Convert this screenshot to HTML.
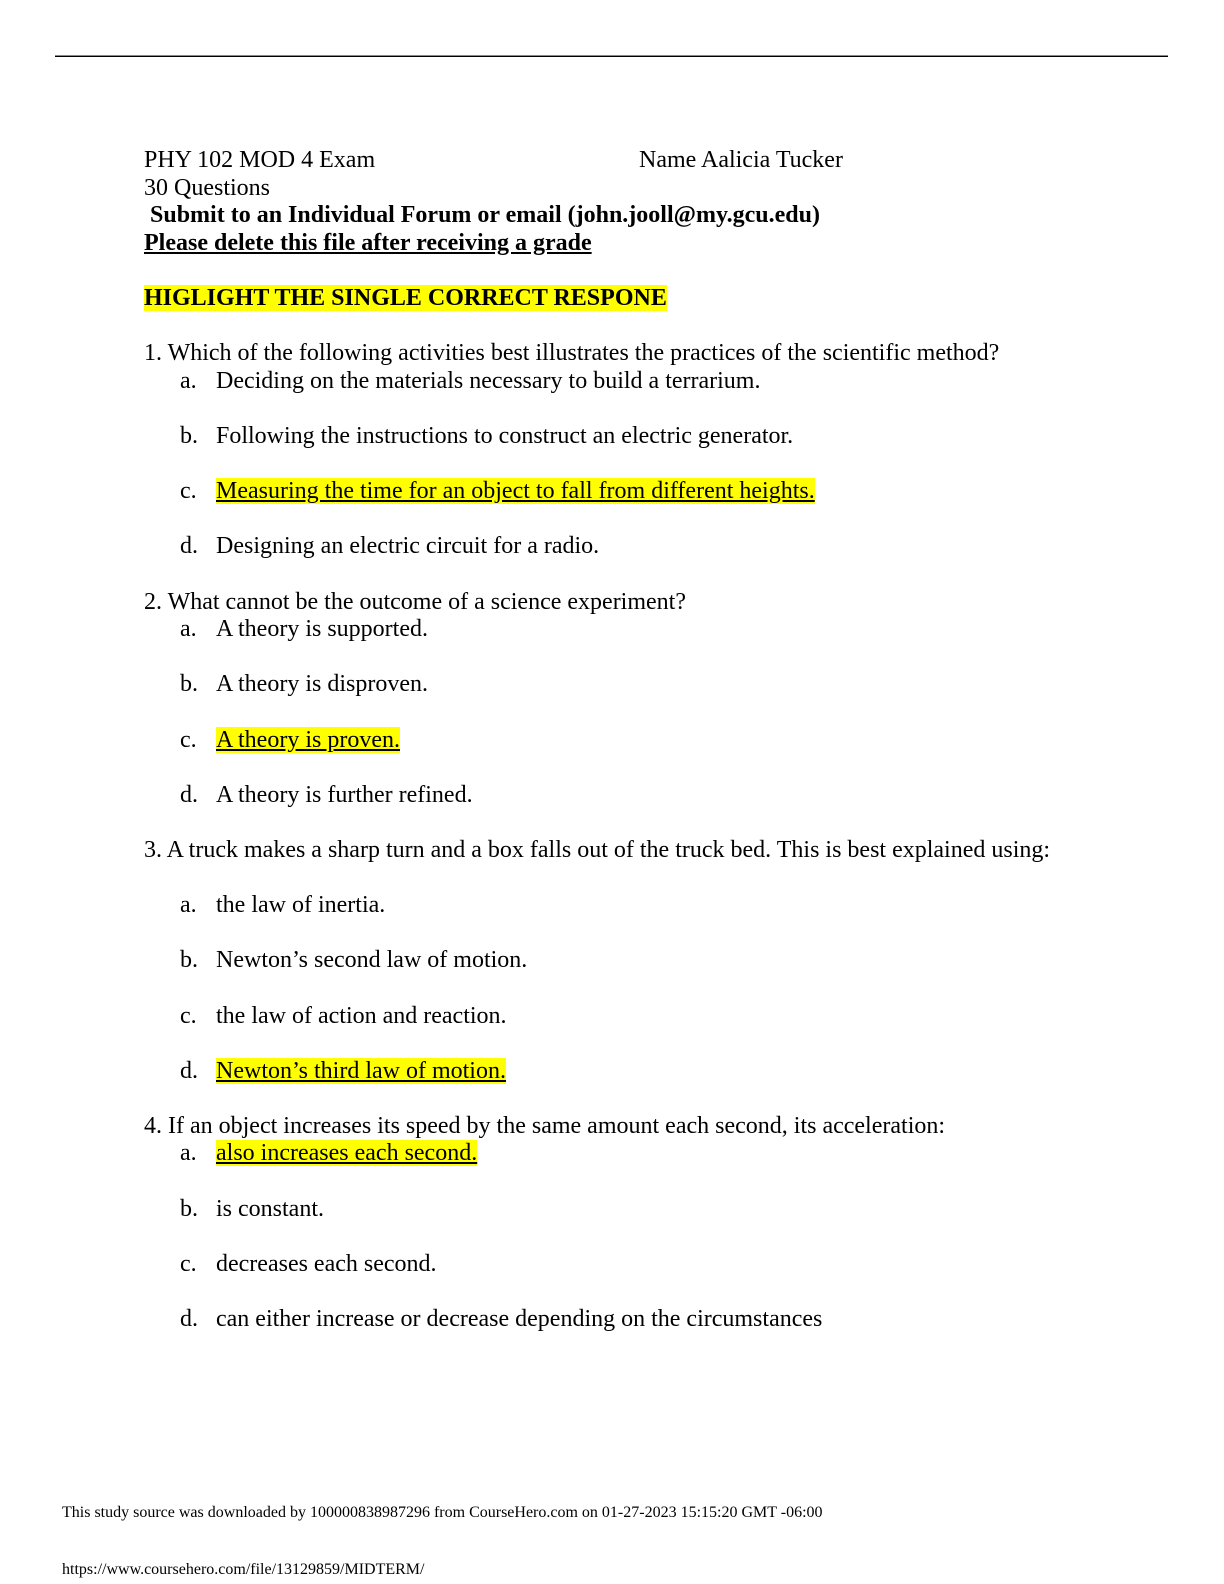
<!DOCTYPE html>
<html>
<head>
<meta charset="utf-8">
<style>
  html, body { margin:0; padding:0; }
  body { width:1224px; height:1584px; position:relative; background:#fff; overflow:hidden;
         font-family:"Liberation Serif", "Times New Roman", serif; color:#000; }
  .rule { position:absolute; left:55px; top:55px; width:1113px; height:0; border-top:1px solid #888; border-bottom:1px solid #000; }
  .doc { position:absolute; left:0; top:147.1px; width:1224px; font-size:24px; line-height:27.6px; }
  .ln { position:relative; height:27.6px; white-space:pre; }
  .q { position:absolute; left:144px; top:0; }
  .let { position:absolute; left:180px; top:0; }
  .opt { position:absolute; left:216px; top:0; }
  .hl { background:#ffff00; }
  .u { text-decoration:underline; }
  b { font-weight:bold; }
  .foot { position:absolute; left:62px; font-size:16px; line-height:20px; white-space:pre; }
</style>
</head>
<body>
<div class="rule"></div>
<div class="doc">
  <div class="ln"><span class="q">PHY 102 MOD 4 Exam</span><span style="position:absolute;left:639px;top:0;">Name Aalicia Tucker</span></div>
  <div class="ln"><span class="q">30 Questions</span></div>
  <div class="ln"><span class="q" style="left:150px;"><b>Submit to an Individual Forum or email (john.jooll@my.gcu.edu)</b></span></div>
  <div class="ln"><span class="q"><b class="u">Please delete this file after receiving a grade</b></span></div>
  <div class="ln"></div>
  <div class="ln"><span class="q"><b class="hl">HIGLIGHT THE SINGLE CORRECT RESPONE</b></span></div>
  <div class="ln"></div>
  <div class="ln"><span class="q">1. Which of the following activities best illustrates the practices of the scientific method?</span></div>
  <div class="ln"><span class="let">a.</span><span class="opt">Deciding on the materials necessary to build a terrarium.</span></div>
  <div class="ln"></div>
  <div class="ln"><span class="let">b.</span><span class="opt">Following the instructions to construct an electric generator.</span></div>
  <div class="ln"></div>
  <div class="ln"><span class="let">c.</span><span class="opt"><span class="hl u">Measuring the time for an object to fall from different heights.</span></span></div>
  <div class="ln"></div>
  <div class="ln"><span class="let">d.</span><span class="opt">Designing an electric circuit for a radio.</span></div>
  <div class="ln"></div>
  <div class="ln"><span class="q">2. What cannot be the outcome of a science experiment?</span></div>
  <div class="ln"><span class="let">a.</span><span class="opt">A theory is supported.</span></div>
  <div class="ln"></div>
  <div class="ln"><span class="let">b.</span><span class="opt">A theory is disproven.</span></div>
  <div class="ln"></div>
  <div class="ln"><span class="let">c.</span><span class="opt"><span class="hl u">A theory is proven.</span></span></div>
  <div class="ln"></div>
  <div class="ln"><span class="let">d.</span><span class="opt">A theory is further refined.</span></div>
  <div class="ln"></div>
  <div class="ln"><span class="q">3. A truck makes a sharp turn and a box falls out of the truck bed. This is best explained using:</span></div>
  <div class="ln"></div>
  <div class="ln"><span class="let">a.</span><span class="opt">the law of inertia.</span></div>
  <div class="ln"></div>
  <div class="ln"><span class="let">b.</span><span class="opt">Newton’s second law of motion.</span></div>
  <div class="ln"></div>
  <div class="ln"><span class="let">c.</span><span class="opt">the law of action and reaction.</span></div>
  <div class="ln"></div>
  <div class="ln"><span class="let">d.</span><span class="opt"><span class="hl u">Newton’s third law of motion.</span></span></div>
  <div class="ln"></div>
  <div class="ln"><span class="q">4. If an object increases its speed by the same amount each second, its acceleration:</span></div>
  <div class="ln"><span class="let">a.</span><span class="opt"><span class="hl u">also increases each second.</span></span></div>
  <div class="ln"></div>
  <div class="ln"><span class="let">b.</span><span class="opt">is constant.</span></div>
  <div class="ln"></div>
  <div class="ln"><span class="let">c.</span><span class="opt">decreases each second.</span></div>
  <div class="ln"></div>
  <div class="ln"><span class="let">d.</span><span class="opt">can either increase or decrease depending on the circumstances</span></div>
</div>
<div class="foot" style="top:1503px;">This study source was downloaded by 100000838987296 from CourseHero.com on 01-27-2023 15:15:20 GMT -06:00</div>
<div class="foot" style="top:1560px;">https://www.coursehero.com/file/13129859/MIDTERM/</div>
</body>
</html>
